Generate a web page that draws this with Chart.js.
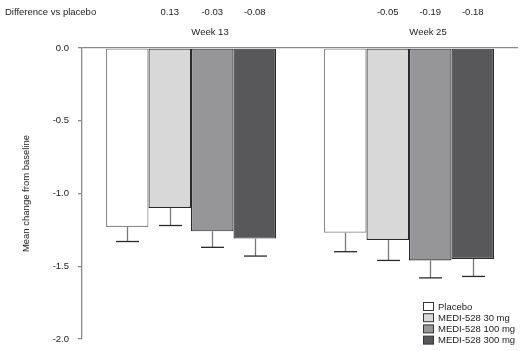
<!DOCTYPE html>
<html><head><meta charset="utf-8">
<script src="https://cdn.jsdelivr.net/npm/chart.js@4/dist/chart.umd.min.js"></script>
<style>html,body{margin:0;padding:0;background:#fff}#wrap{width:523px;height:351px}</style>
</head><body><div id="wrap"><canvas id="c" width="523" height="351"></canvas></div>
<script>
const categories = ['Week 13', 'Week 25'];
const seriesNames = ['Placebo', 'MEDI-528 30 mg', 'MEDI-528 100 mg', 'MEDI-528 300 mg'];
const placebo = [-1.23, -1.27];
const medi30 = [-1.10, -1.32];
const medi100 = [-1.26, -1.46];
const medi300 = [-1.31, -1.45];
const placeboErr = [0.10, 0.13];
const medi30Err = [0.12, 0.14];
const medi100Err = [0.11, 0.12];
const medi300Err = [0.12, 0.12];
const diffWeek13 = ['0.13', '-0.03', '-0.08'];
const diffWeek25 = ['-0.05', '-0.19', '-0.18'];
const yTicks = [0, -0.5, -1.0, -1.5, -2.0];

const FONT = '"Liberation Sans", Arial, sans-serif';
const fills = ['#ffffff', '#d8d8d8', '#969698', '#58585a'];
const borders = ['#8a8a8a', '#2a2a2a', '#2a2a2a', '#2a2a2a'];
const values = [placebo, medi30, medi100, medi300];
const errs = [placeboErr, medi30Err, medi100Err, medi300Err];
const diffs = [diffWeek13, diffWeek25];

const extras = {
  id: 'extras',
  afterDatasetsDraw(chart) {
    const ctx = chart.ctx;
    const y = chart.scales.y;
    const x = chart.scales.x;
    // error bars
    values.forEach((vals, di) => {
      const meta = chart.getDatasetMeta(di);
      meta.data.forEach((bar, i) => {
        const y0 = y.getPixelForValue(vals[i]);
        const y1 = y.getPixelForValue(vals[i] - errs[di][i]);
        const cx = Math.round(bar.x) + 0.5;
        ctx.save();
        ctx.strokeStyle = '#7a7a7a';
        ctx.lineWidth = 1.3;
        ctx.beginPath(); ctx.moveTo(cx, y0); ctx.lineTo(cx, y1); ctx.stroke();
        ctx.strokeStyle = '#2a2a2a';
        ctx.lineWidth = 1.3;
        const hw = bar.width * 0.27;
        ctx.beginPath(); ctx.moveTo(cx - hw, y1); ctx.lineTo(cx + hw, y1); ctx.stroke();
        ctx.restore();
      });
    });
    // texts
    ctx.save();
    ctx.fillStyle = '#222';
    ctx.font = '9.5px ' + FONT;
    ctx.textBaseline = 'middle';
    ctx.textAlign = 'left';
    ctx.fillText('Difference vs placebo', 5, 12);
    ctx.textAlign = 'center';
    categories.forEach((c, i) => {
      ctx.fillText(c, x.getPixelForValue(i) + 19, 32);
      diffs[i].forEach((d, k) => {
        const bar = chart.getDatasetMeta(k + 1).data[i];
        ctx.fillText(d, bar.x, 12);
      });
    });
    // legend
    ctx.textAlign = 'left';
    seriesNames.forEach((n, k) => {
      const ly = 306.5 + k * 11.2;
      ctx.fillStyle = fills[k];
      ctx.fillRect(423.5, ly - 4, 10, 8);
      ctx.strokeStyle = '#333';
      ctx.lineWidth = 1;
      ctx.strokeRect(423.5, ly - 4, 10, 8);
      ctx.fillStyle = '#222';
      ctx.fillText(n, 438, ly + 0.5);
    });
    ctx.restore();
  }
};

new Chart(document.getElementById('c'), {
  type: 'bar',
  data: {
    labels: categories,
    datasets: values.map((v, k) => ({
      label: seriesNames[k],
      data: v,
      backgroundColor: fills[k],
      borderColor: borders[k],
      borderWidth: 1.2,
      borderSkipped: false,
      categoryPercentage: 0.78,
      barPercentage: 1.0
    }))
  },
  options: {
    responsive: false,
    animation: false,
    devicePixelRatio: 1,
    layout: { padding: { top: 48, bottom: 12, right: 5, left: 21 } },
    plugins: { legend: { display: false }, tooltip: { enabled: false } },
    scales: {
      x: { display: false },
      y: {
        min: -2, max: 0,
        afterFit(s) { s.width = 61; s.paddingTop = 0; s.paddingBottom = 0; },
        afterBuildTicks(s) { s.ticks = yTicks.map(v => ({ value: v })); },
        border: { display: true, color: '#8a8a8a', width: 1.3 },
        grid: {
          drawOnChartArea: true,
          color: c => (c.tick && c.tick.value === 0) ? '#8a8a8a' : 'rgba(0,0,0,0)',
          tickColor: '#8a8a8a',
          tickLength: 4,
          lineWidth: 1.3
        },
        ticks: {
          padding: 9,
          color: '#222',
          font: { family: FONT, size: 9.5 },
          callback: v => Number(v).toFixed(1)
        },
        title: {
          display: true,
          text: 'Mean change from baseline',
          color: '#222',
          font: { family: FONT, size: 9.5 },
          padding: { top: 0, bottom: 4 }
        }
      }
    }
  },
  plugins: [extras]
});
</script></body></html>
